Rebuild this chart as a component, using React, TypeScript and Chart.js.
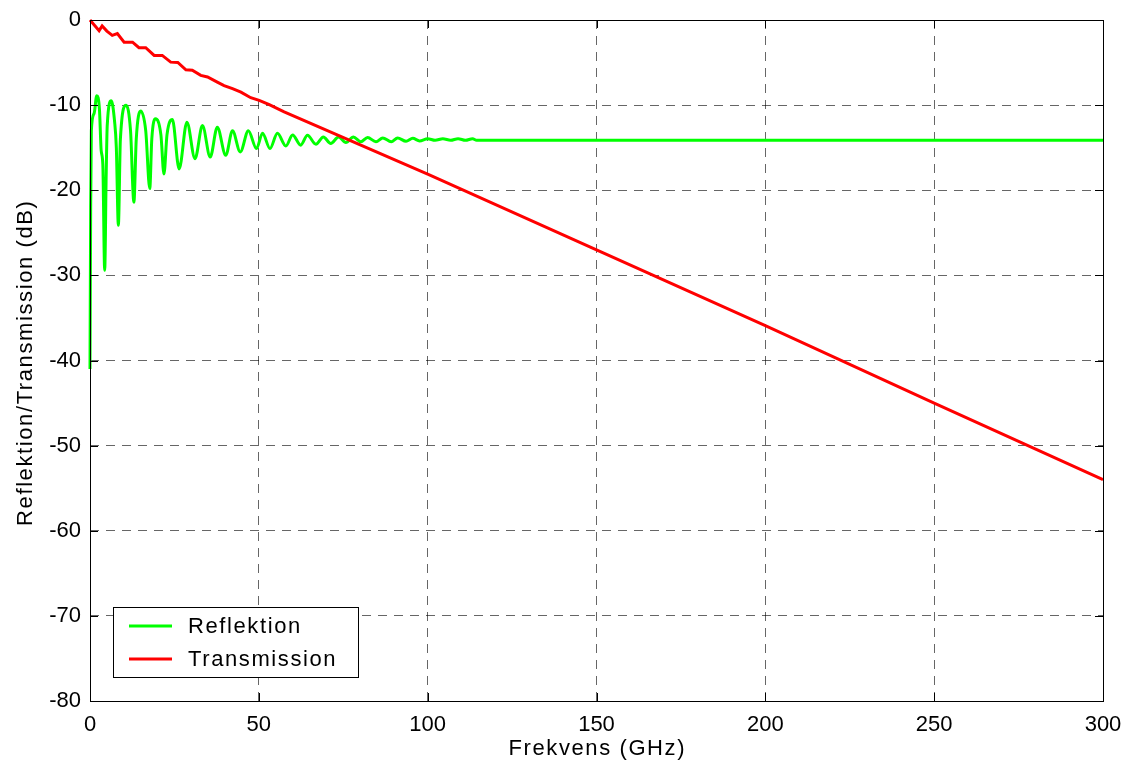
import React, { useEffect, useRef } from "react";
import { Chart, registerables } from "chart.js";

Chart.register(...registerables);

const reflFreq = [0, 0.2, 0.4, 1.2, 2.0, 2.8, 3.3, 3.8, 4.35, 4.8, 5.1, 6.3, 7.3, 7.8, 8.4, 9.0, 10.7, 12.0, 13.0, 13.7, 15.0, 16.5, 17.7, 18.3, 19.4, 21.0, 21.9, 22.8, 24.4, 26.4, 28.7, 31.1, 33.3, 35.6, 37.7, 40.2, 42.2, 44.5, 46.9, 49.3, 51.1, 53.3, 55.5, 58.0, 60.0, 62.4, 64.4, 66.9, 69.1, 71.3, 73.6, 75.8, 78.0, 80.2, 82.2, 84.7, 86.7, 89.2, 91.1, 93.6, 95.6, 97.6, 100.0, 102.2, 104.5, 106.8, 109.0, 111.2, 113.3, 114.5, 300];
const reflDb = [-41, -22, -13, -11, -8.9, -10.5, -15.3, -17, -29.4, -18, -12.4, -9.5, -12, -15, -24.1, -14, -10.0, -13, -21.4, -14, -10.7, -13, -19.8, -14, -11.6, -13.5, -18.1, -13.5, -11.7, -17.5, -12.0, -16.3, -12.4, -16.1, -12.6, -15.9, -13.0, -15.5, -13.0, -15.1, -13.3, -15.1, -13.3, -14.8, -13.5, -14.7, -13.55, -14.6, -13.75, -14.5, -13.75, -14.4, -13.75, -14.3, -13.8, -14.3, -13.85, -14.3, -13.85, -14.25, -13.9, -14.2, -13.95, -14.13, -13.95, -14.13, -13.95, -14.13, -13.95, -14.13, -14.13];

const transFreq = [0, 2.7, 3.6, 5.0, 6.6, 8.1, 10.1, 12.6, 14.5, 16.5, 19.0, 21.4, 23.9, 26.0, 28.4, 30.3, 32.8, 34.8, 37.7, 39.7, 42.2, 44.7, 47.6, 50.1, 53.1, 57.5, 100, 150, 200, 250, 300];
const transDb = [0, -1.25, -0.7, -1.3, -1.8, -1.6, -2.6, -2.6, -3.26, -3.26, -4.16, -4.16, -4.95, -4.98, -5.85, -5.9, -6.5, -6.7, -7.3, -7.7, -8.07, -8.47, -9.13, -9.44, -9.95, -10.8, -18.1, -27.0, -35.9, -45.0, -54.0];

const seriesLabels = ["Reflektion", "Transmission"];
const seriesColors = ["#00ff00", "#ff0000"];
const xTitle = "Frekvens (GHz)";
const yTitle = "Reflektion/Transmission (dB)";

const FONT = "'Liberation Sans', Arial, Helvetica, sans-serif";
const SPACING = 1.6;

const boxPlugin = {
  id: "boxAndLegend",
  afterDatasetsDraw(chart: any) {
    const { ctx, chartArea } = chart;
    const { left, right, top, bottom } = chartArea;
    ctx.save();
    ctx.strokeStyle = "#000";
    ctx.lineWidth = 1;
    ctx.strokeRect(Math.round(left) + 0.5, Math.round(top) + 0.5, Math.round(right - left), Math.round(bottom - top));
    const xs = chart.scales.x;
    const ys = chart.scales.y;
    ctx.beginPath();
    xs.ticks.forEach((t: any) => {
      const px = Math.round(xs.getPixelForValue(t.value)) + 0.5;
      ctx.moveTo(px, bottom);
      ctx.lineTo(px, bottom - 8);
      ctx.moveTo(px, top);
      ctx.lineTo(px, top + 8);
    });
    ys.ticks.forEach((t: any) => {
      const py = Math.round(ys.getPixelForValue(t.value)) + 0.5;
      ctx.moveTo(left, py);
      ctx.lineTo(left + 8, py);
      ctx.moveTo(right, py);
      ctx.lineTo(right - 8, py);
    });
    ctx.stroke();

    // legend
    const bx = Math.round(left) + 23;
    const by = Math.round(bottom) - 94;
    const bw = 245;
    const bh = 70;
    ctx.fillStyle = "#fff";
    ctx.fillRect(bx, by, bw, bh);
    ctx.strokeStyle = "#000";
    ctx.strokeRect(bx + 0.5, by + 0.5, bw, bh);
    ctx.font = `22px ${FONT}`;
    (ctx as any).letterSpacing = `${SPACING}px`;
    ctx.textBaseline = "middle";
    ctx.textAlign = "left";
    chart.data.datasets.forEach((ds: any, i: number) => {
      const cy = by + 19 + i * 33;
      ctx.strokeStyle = ds.borderColor;
      ctx.lineWidth = 3;
      ctx.beginPath();
      ctx.moveTo(bx + 16, cy);
      ctx.lineTo(bx + 59, cy);
      ctx.stroke();
      ctx.fillStyle = "#000";
      ctx.fillText(ds.label, bx + 75, cy + 1);
    });
    (ctx as any).letterSpacing = "0px";
    ctx.restore();
  },
  afterDraw(chart: any) {
    const { ctx, chartArea } = chart;
    ctx.save();
    ctx.fillStyle = "#000";
    ctx.font = `22px ${FONT}`;
    (ctx as any).letterSpacing = `${SPACING}px`;
    ctx.textAlign = "center";
    ctx.textBaseline = "alphabetic";
    ctx.fillText(xTitle, (chartArea.left + chartArea.right) / 2 + SPACING / 2, 755);
    ctx.translate(32, (chartArea.top + chartArea.bottom) / 2 + 3);
    ctx.rotate(-Math.PI / 2);
    ctx.fillText(yTitle, SPACING / 2, 0);
    (ctx as any).letterSpacing = "0px";
    ctx.restore();
  },
};

const noPad = (s: any) => {
  s.paddingTop = 0;
  s.paddingBottom = 0;
  s.paddingLeft = 0;
  s.paddingRight = 0;
};

export default function App() {
  const ref = useRef<HTMLCanvasElement>(null);
  useEffect(() => {
    if (!ref.current) return;
    const chart = new Chart(ref.current, {
      type: "line",
      data: {
        datasets: [
          {
            label: seriesLabels[0],
            data: reflFreq.map((f, i) => ({ x: f, y: reflDb[i] })),
            borderColor: seriesColors[0],
            backgroundColor: seriesColors[0],
            borderWidth: 3,
            pointRadius: 0,
            cubicInterpolationMode: "monotone",
            clip: 3,
            order: 1,
          },
          {
            label: seriesLabels[1],
            data: transFreq.map((f, i) => ({ x: f, y: transDb[i] })),
            borderColor: seriesColors[1],
            backgroundColor: seriesColors[1],
            borderWidth: 3,
            pointRadius: 0,
            tension: 0,
            clip: 3,
            order: 0,
          },
        ],
      },
      options: {
        animation: false,
        responsive: false,
        maintainAspectRatio: false,
        layout: { padding: { top: 20, right: 27, left: 0, bottom: 0 } },
        plugins: { legend: { display: false }, tooltip: { enabled: false } },
        scales: {
          x: {
            type: "linear",
            min: 0,
            max: 300,
            afterFit: (s: any) => {
              s.height = 72;
              noPad(s);
            },
            ticks: { stepSize: 50, color: "#000", font: { size: 22, family: FONT }, padding: 11, maxRotation: 0 },
            grid: { color: "rgba(0,0,0,0.6)", lineWidth: 1, drawTicks: false },
            border: { display: false, dash: [9, 7] },
            title: { display: false },
          },
          y: {
            type: "linear",
            min: -80,
            max: 0,
            afterFit: (s: any) => {
              s.width = 90;
              noPad(s);
            },
            ticks: { stepSize: 10, color: "#000", font: { size: 22, family: FONT }, padding: 9 },
            grid: { color: "rgba(0,0,0,0.6)", lineWidth: 1, drawTicks: false },
            border: { display: false, dash: [9, 7] },
            title: { display: false },
          },
        },
      } as any,
      plugins: [boxPlugin],
    });
    return () => chart.destroy();
  }, []);
  return (
    <div style={{ position: "fixed", left: 0, top: 0, width: 1130, height: 773, background: "#fff" }}>
      <canvas ref={ref} width={1130} height={773} style={{ display: "block" }} />
    </div>
  );
}
